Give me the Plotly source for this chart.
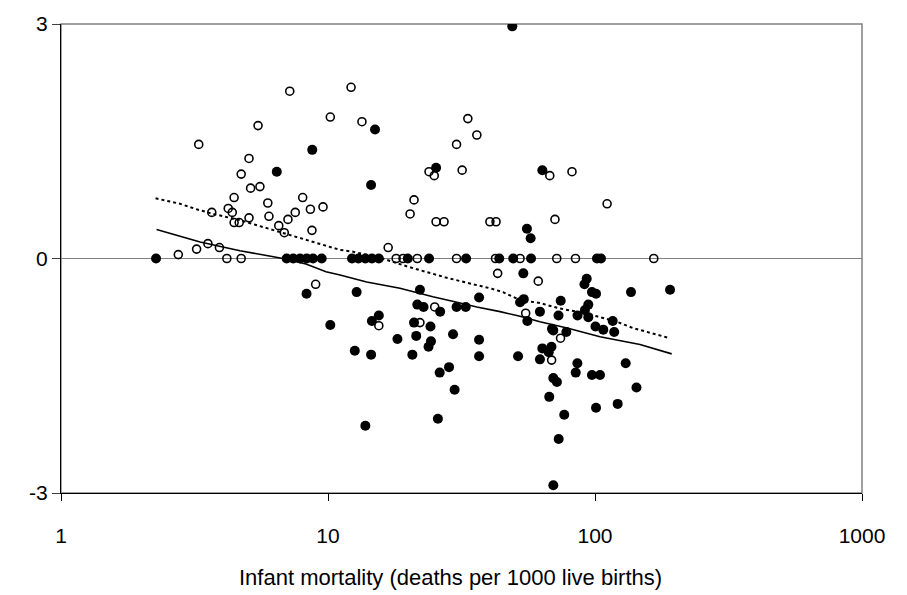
import plotly.graph_objects as go

# Countries with open markers: infant mortality vs. standardized value
open_mort = [7.19, 10.2, 5.47, 3.28, 5.06, 4.73, 5.13, 5.56, 4.45, 8.04, 5.95, 8.59, 9.58,
             4.23, 4.38, 3.67, 7.54, 5.06, 6.01, 7.08, 4.45, 4.65, 6.54, 6.86, 8.71, 3.55,
             3.92, 3.22, 2.75, 4.18, 4.73, 8.99, 12.2, 13.4, 33.4, 36.1, 30.3, 23.9, 25.0,
             31.8, 67.7, 82.0, 21.0, 20.3, 25.4, 27.2, 40.4, 42.6, 70.8, 16.8, 111.0, 18.0,
             19.1, 21.6, 30.3, 42.4, 52.4, 71.9, 84.5, 166.0, 15.5, 25.1, 22.1, 43.2, 61.3,
             55.0, 74.3, 68.8]
open_val = [2.14, 1.81, 1.70, 1.46, 1.28, 1.08, 0.90, 0.92, 0.78, 0.78, 0.71, 0.63, 0.66,
            0.64, 0.59, 0.59, 0.59, 0.52, 0.54, 0.50, 0.46, 0.46, 0.42, 0.33, 0.36, 0.19,
            0.14, 0.12, 0.05, 0.0, 0.0, -0.33, 2.19, 1.75, 1.79, 1.58, 1.46, 1.11, 1.06,
            1.13, 1.06, 1.11, 0.75, 0.57, 0.47, 0.47, 0.47, 0.47, 0.50, 0.14, 0.70, 0.0,
            0.0, 0.0, 0.0, 0.0, 0.0, 0.0, 0.0, 0.0, -0.86, -0.62, -0.82, -0.19, -0.29,
            -0.70, -1.02, -1.30]

# Countries with filled markers
filled_mort = [8.73, 6.43, 2.27, 7.00, 7.41, 7.86, 8.32, 8.79, 9.47, 49.0, 15.0, 14.5, 25.4,
               63.5, 55.6, 57.4, 12.3, 13.0, 13.8, 14.6, 15.5, 19.9, 23.9, 32.9, 43.8, 49.4,
               57.6, 101.7, 105.3,
               8.31, 10.2, 12.8, 15.5, 14.6, 12.6, 14.5, 18.2, 13.8, 22.1, 21.6, 22.8, 26.3,
               21.0, 24.2, 21.4, 24.3, 23.8, 20.7, 29.4, 26.2, 28.4, 29.8, 25.8, 30.3, 32.8,
               36.8, 36.8, 36.8, 51.5, 53.9, 52.4, 54.1, 55.8, 62.2, 74.4, 73.0, 69.0, 69.8,
               78.1, 63.5, 68.7, 62.2, 67.1, 85.9, 84.7, 69.8, 72.0, 67.4, 76.7, 73.1, 69.8,
               93.1, 91.3, 97.4, 100.9, 94.4, 91.7, 86.0, 94.4, 100.4, 107.4, 116.5, 118.0,
               97.4, 104.4, 100.9, 121.6, 130.3, 143.0, 136.4, 191.0]
filled_val = [1.39, 1.11, 0.0, 0.0, 0.0, 0.0, 0.0, 0.0, 0.0, 2.97, 1.65, 0.94, 1.16,
              1.13, 0.38, 0.26, 0.0, 0.0, 0.0, 0.0, 0.0, 0.0, 0.0, 0.0, 0.0, 0.0,
              0.0, 0.0, 0.0,
              -0.45, -0.85, -0.43, -0.73, -0.80, -1.18, -1.23, -1.03, -2.14, -0.40, -0.59,
              -0.62, -0.68, -0.82, -0.87, -0.99, -1.06, -1.13, -1.23, -0.97, -1.46, -1.39,
              -1.68, -2.05, -0.62, -0.62, -0.50, -1.04, -1.25, -1.25, -0.19, -0.56, -0.52,
              -0.80, -0.68, -0.54, -0.73, -0.90, -0.92, -0.94, -1.15, -1.13, -1.29, -1.20,
              -1.34, -1.46, -1.53, -1.58, -1.77, -2.00, -2.31, -2.90,
              -0.26, -0.33, -0.43, -0.45, -0.59, -0.66, -0.73, -0.75, -0.87, -0.91, -0.80,
              -0.94, -1.49, -1.49, -1.91, -1.86, -1.34, -1.65, -0.43, -0.40]

# Smoothed trend lines
solid_mort = [2.28, 3.32, 4.68, 6.78, 8.27, 9.83, 11.09, 13.96, 18.6, 24.7, 30.4, 36.1,
              44.1, 52.4, 62.2, 78.6, 104.4, 147.4, 193.8]
solid_val = [0.37, 0.21, 0.10, 0.0, -0.07, -0.17, -0.21, -0.30, -0.38, -0.49, -0.56, -0.62,
             -0.68, -0.74, -0.81, -0.89, -1.00, -1.10, -1.22]
dotted_mort = [2.26, 2.79, 3.22, 3.72, 4.68, 6.24, 8.32, 11.09, 12.27, 15.66, 19.71, 22.11,
               27.4, 34.0, 40.4, 45.2, 52.4, 62.2, 73.9, 85.6, 101.7, 120.9, 138.8, 191.0]
dotted_val = [0.77, 0.70, 0.63, 0.57, 0.49, 0.36, 0.23, 0.11, 0.09, 0.01, -0.10, -0.15,
              -0.24, -0.32, -0.38, -0.43, -0.53, -0.57, -0.64, -0.68, -0.74, -0.81, -0.89,
              -1.02]

x_ticks = [1, 10, 100, 1000]
y_ticks = [-3, 0, 3]
x_title = "Infant mortality (deaths per 1000 live births)"

fig = go.Figure()

fig.add_trace(go.Scatter(
    x=filled_mort, y=filled_val, mode="markers",
    marker=dict(symbol="circle", size=10, color="black", line=dict(width=0)),
    hoverinfo="x+y"))
fig.add_trace(go.Scatter(
    x=open_mort, y=open_val, mode="markers",
    marker=dict(symbol="circle-open", size=8, color="black", line=dict(width=1.6)),
    hoverinfo="x+y"))
fig.add_trace(go.Scatter(
    x=solid_mort, y=solid_val, mode="lines",
    line=dict(color="black", width=1.6), hoverinfo="skip"))
fig.add_trace(go.Scatter(
    x=dotted_mort, y=dotted_val, mode="lines",
    line=dict(color="black", width=2, dash="3px,3px"), hoverinfo="skip"))

fig.update_layout(
    width=907, height=595,
    margin=dict(l=61, r=45, t=20, b=102),
    plot_bgcolor="white", paper_bgcolor="white",
    showlegend=False,
    font=dict(family="Liberation Sans, Arial, sans-serif", size=21, color="black"),
    shapes=[dict(type="rect", xref="paper", yref="paper", x0=0, x1=1, y0=0, y1=1,
                 line=dict(color="#808080", width=1.5), layer="below")],
    annotations=[dict(text=x_title, xref="paper", yref="paper", x=0.486, y=-0.18,
                      xanchor="center", yanchor="middle", showarrow=False,
                      font=dict(size=22))],
)
fig.update_xaxes(
    type="log", range=[0, 3],
    tickvals=x_ticks, ticktext=[str(v) for v in x_ticks],
    tickfont=dict(size=21),
    ticks="outside", ticklen=7, tickcolor="black", tickwidth=1,
    showline=True, linecolor="black", linewidth=1.2,
    showgrid=False, zeroline=False,
    ticklabelstandoff=17,
)
fig.update_yaxes(
    range=[-3, 3],
    tickvals=y_ticks, ticktext=[str(v) for v in y_ticks],
    tickfont=dict(size=21),
    ticks="outside", ticklen=8, tickcolor="#404040", tickwidth=1,
    showline=True, linecolor="black", linewidth=1.2,
    showgrid=False,
    zeroline=True, zerolinecolor="#808080", zerolinewidth=1,
)

fig.write_html("out.html")
